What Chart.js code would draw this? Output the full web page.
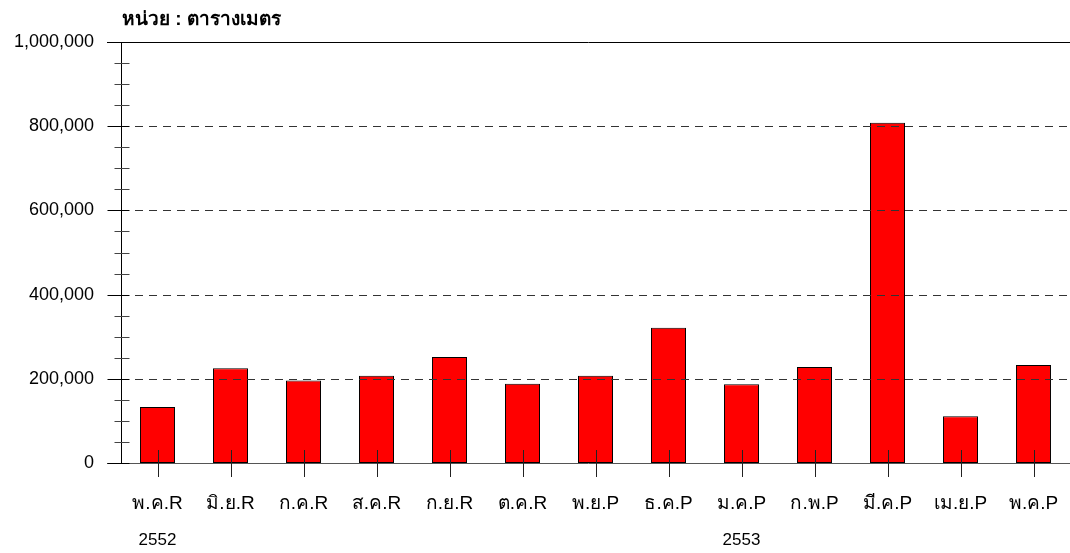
<!DOCTYPE html>
<html>
<head>
<meta charset="utf-8">
<script src="https://cdn.jsdelivr.net/npm/chart.js@4.4.0/dist/chart.umd.min.js"></script>
<style>
  html, body { margin: 0; padding: 0; background: #fff; overflow: hidden; }
  #wrap { width: 1070px; height: 553px; position: relative; }
  canvas { display: block; }
</style>
</head>
<body>
<div id="wrap"><canvas id="myChart"></canvas></div>
<script>
const months = ['พ.ค.R', 'มิ.ย.R', 'ก.ค.R', 'ส.ค.R', 'ก.ย.R', 'ต.ค.R', 'พ.ย.P', 'ธ.ค.P', 'ม.ค.P', 'ก.พ.P', 'มี.ค.P', 'เม.ย.P', 'พ.ค.P'];
const area = [133000, 225000, 196000, 207000, 252000, 188000, 207000, 321000, 187000, 228000, 808000, 111000, 233000];
const years = [{ at: 0, text: '2552' }, { at: 8, text: '2553' }];
const unitTitle = 'หน่วย : ตารางเมตร';
const yMax = 1000000;
const yStep = 200000;
const yMinorStep = 50000;

const FONT = 'Arial, "Liberation Sans", Tahoma, sans-serif';

// ticks that cross the axes, grid lines, title and year row
const axisDecor = {
  id: 'axisDecor',
  afterDraw(chart) {
    const ctx = chart.ctx;
    const x = chart.scales.x;
    const y = chart.scales.y;
    const ca = chart.chartArea;
    ctx.save();

    // dashed grid at labelled values
    ctx.strokeStyle = '#333';
    ctx.lineWidth = 1;
    ctx.setLineDash([8, 6]);
    for (let v = yStep; v < yMax; v += yStep) {
      const py = Math.round(y.getPixelForValue(v)) + 0.5;
      ctx.beginPath();
      ctx.moveTo(ca.left, py);
      ctx.lineTo(ca.right, py);
      ctx.stroke();
    }
    ctx.setLineDash([]);

    // top line and baseline
    ctx.strokeStyle = '#000';
    let py = Math.round(y.getPixelForValue(yMax)) + 0.5;
    ctx.beginPath(); ctx.moveTo(ca.left - 14, py); ctx.lineTo(ca.right, py); ctx.stroke();
    ctx.strokeStyle = '#555';
    py = Math.round(y.getPixelForValue(0)) + 0.5;
    ctx.beginPath(); ctx.moveTo(ca.left - 14, py); ctx.lineTo(ca.right, py); ctx.stroke();

    // y axis line
    ctx.strokeStyle = '#000';
    const ax = Math.round(ca.left) + 0.5;
    ctx.beginPath(); ctx.moveTo(ax, ca.top); ctx.lineTo(ax, ca.bottom); ctx.stroke();

    // y ticks, major and minor
    for (let v = 0; v <= yMax; v += yMinorStep) {
      const ty = Math.round(y.getPixelForValue(v)) + 0.5;
      const major = v % yStep === 0;
      ctx.strokeStyle = major ? '#000' : '#444';
      ctx.beginPath();
      ctx.moveTo(ax - (major ? 14 : 7), ty);
      ctx.lineTo(ax + 8, ty);
      ctx.stroke();
    }

    // x ticks at category centres
    ctx.strokeStyle = '#222';
    months.forEach((m, i) => {
      const tx = Math.round(x.getPixelForValue(i)) + 0.5;
      ctx.beginPath();
      ctx.moveTo(tx, ca.bottom - 13);
      ctx.lineTo(tx, ca.bottom + 14);
      ctx.stroke();
    });

    // year row
    ctx.fillStyle = '#000';
    ctx.font = '17px ' + FONT;
    ctx.textAlign = 'center';
    ctx.textBaseline = 'middle';
    years.forEach(yr => {
      ctx.fillText(yr.text, x.getPixelForValue(yr.at), 540);
    });

    // unit title
    ctx.font = 'bold 19px ' + FONT;
    ctx.textAlign = 'left';
    ctx.fillText(unitTitle, 122, 20);

    ctx.restore();
  }
};

const ctx = document.getElementById('myChart');

new Chart(ctx, {
  type: 'bar',
  data: {
    labels: months,
    datasets: [{
      label: 'พื้นที่',
      data: area,
      backgroundColor: '#ff0000',
      borderColor: '#000',
      borderWidth: 1,
      borderSkipped: false,
      categoryPercentage: 1,
      barPercentage: 0.48
    }]
  },
  options: {
    responsive: true,
    maintainAspectRatio: false,
    animation: false,
    layout: { padding: { top: 42, right: 0, bottom: 0, left: 0 } },
    plugins: {
      legend: { display: false },
      tooltip: { enabled: false }
    },
    scales: {
      x: {
        // invisible ticks only push the labels down
        grid: { display: true, drawOnChartArea: false, drawTicks: true, tickLength: 29, tickColor: 'rgba(0,0,0,0)' },
        border: { display: false },
        ticks: {
          color: '#000',
          font: { family: FONT, size: 19 },
          padding: 0,
          maxRotation: 0,
          autoSkip: false
        },
        afterFit(scale) { scale.height = 90; }
      },
      y: {
        min: 0,
        max: yMax,
        grid: { display: false, drawTicks: false },
        border: { display: false },
        ticks: {
          stepSize: yStep,
          color: '#000',
          font: { family: FONT, size: 18 },
          padding: 27,
          callback: (v) => v.toLocaleString('en-US')
        },
        afterFit(scale) { scale.width = 121; }
      }
    }
  },
  plugins: [axisDecor]
});
</script>
</body>
</html>
